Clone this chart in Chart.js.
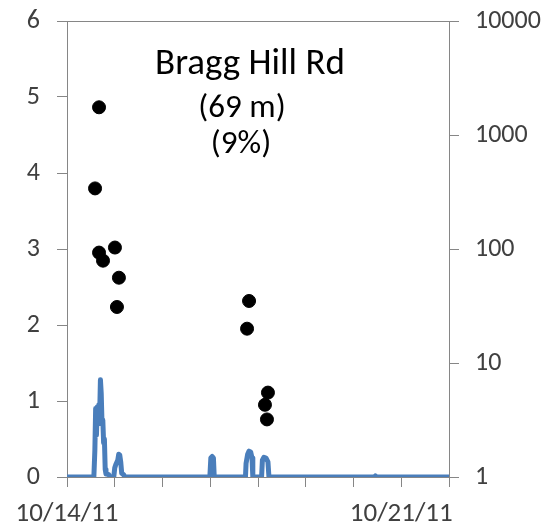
<!DOCTYPE html>
<html>
<head>
<meta charset="utf-8">
<script src="https://cdn.jsdelivr.net/npm/chart.js@4/dist/chart.umd.min.js"></script>
<style>
  html, body { margin: 0; padding: 0; background: #fff; }
  #wrap { width: 545px; height: 525px; }
</style>
</head>
<body>
<div id="wrap"><canvas id="flowChart" width="545" height="525"></canvas></div>
<script>
// hours since 10/14/11 00:00
const flowHours = [0, 13.5, 14, 14.4, 14.8, 15.2, 15.6, 16, 16.4, 16.8, 17.2, 17.6, 18, 18.4, 18.8, 19.2, 19.6, 21, 21.5,
  23.5, 24, 24.5, 25.5, 26, 26.5, 27, 27.5, 28.5, 29,
  71.8, 72.3, 73, 73.6, 74,
  89.7, 90, 90.8, 91.5, 92.3, 93, 93.4,
  97.8, 98.2, 99, 100, 101, 101.5,
  154.5, 155, 155.5, 192];
const flowValues = [0, 0, 0.35, 0.9, 0.55, 0.92, 0.7, 0.95, 0.8, 1.28, 1.1, 0.7, 0.75, 0.45, 0.5, 0.1, 0.04, 0.03, 0,
  0, 0.12, 0.16, 0.22, 0.30, 0.29, 0.2, 0.05, 0.03, 0,
  0, 0.25, 0.27, 0.25, 0,
  0, 0.18, 0.3, 0.34, 0.33, 0.25, 0,
  0, 0.22, 0.26, 0.25, 0.2, 0,
  0, 0.015, 0, 0];

const sampleHours = [16.1, 14.1, 16.1, 24.1, 18.1, 26.1, 25.1, 91.5, 90.5, 101, 99.5, 100.5];
const sampleValues = [1750, 340, 93, 103, 79, 56, 31, 35, 20, 5.5, 4.3, 3.2];

const dayLabels = ['10/14/11', '', '', '', '', '', '', '10/21/11', ''];
const leftTicks = [0, 1, 2, 3, 4, 5, 6];
const rightTicks = [1, 10, 100, 1000, 10000];
const titleLines = ['Bragg Hill Rd', '(69 m)', '(9%)'];

const FONT = "Carlito, 'Open Sans', sans-serif";
const AXIS = '#868686';
const TEXT = '#404040';

const flowPoints = flowHours.map((h, i) => ({ x: h, y: flowValues[i] }));
const samplePoints = sampleHours.map((h, i) => ({ x: h, y: sampleValues[i] }));

// box line along the top of the plot area + the site labels
const plotDecor = {
  id: 'plotDecor',
  beforeDatasetsDraw(chart) {
    const { ctx, chartArea: a } = chart;
    ctx.save();
    ctx.strokeStyle = AXIS;
    ctx.lineWidth = 1;
    ctx.beginPath();
    ctx.moveTo(a.left, a.top + 0.5);
    ctx.lineTo(a.right, a.top + 0.5);
    ctx.stroke();
    ctx.restore();
  },
  afterDraw(chart) {
    const { ctx } = chart;
    ctx.save();
    ctx.fillStyle = '#000';
    ctx.textAlign = 'center';
    ctx.textBaseline = 'alphabetic';
    ctx.font = '37px ' + FONT;
    ctx.fillText(titleLines[0], 250, 74);
    ctx.font = '33px ' + FONT;
    ctx.fillText(titleLines[1], 242, 117);
    ctx.fillText(titleLines[2], 241, 153);
    ctx.restore();
  }
};

function fixWidth(w) {
  return function(scale) {
    scale.width = w;
    scale.paddingTop = 0;
    scale.paddingBottom = 0;
  };
}

new Chart(document.getElementById('flowChart'), {
  data: {
    datasets: [
      {
        type: 'scatter',
        data: samplePoints,
        yAxisID: 'y1',
        backgroundColor: '#000',
        borderColor: '#000',
        pointRadius: 6.5,
        pointHoverRadius: 6.5
      },
      {
        type: 'line',
        data: flowPoints,
        yAxisID: 'y',
        borderColor: '#4A7EBB',
        borderWidth: 5,
        borderJoinStyle: 'round',
        borderCapStyle: 'round',
        pointRadius: 0,
        tension: 0
      }
    ]
  },
  options: {
    responsive: false,
    animation: false,
    layout: { padding: { top: 21, left: 0, right: 0, bottom: 0 } },
    plugins: { legend: { display: false }, tooltip: { enabled: false } },
    scales: {
      x: {
        type: 'linear',
        min: 0,
        max: 192,
        afterBuildTicks: s => { s.ticks = dayLabels.map((_, i) => ({ value: i * 24 })); },
        afterFit: s => { s.height = 48; s.paddingLeft = 0; s.paddingRight = 0; },
        ticks: {
          autoSkip: false,
          maxRotation: 0,
          padding: 11,
          color: TEXT,
          font: { family: FONT, size: 27 },
          callback: (v, i) => dayLabels[i]
        },
        grid: { drawOnChartArea: false, tickLength: 10, color: AXIS },
        border: { color: AXIS }
      },
      y: {
        position: 'left',
        min: 0,
        max: 6,
        afterBuildTicks: s => { s.ticks = leftTicks.map(v => ({ value: v })); },
        afterFit: fixWidth(67),
        ticks: {
          padding: 17,
          color: TEXT,
          font: { family: FONT, size: 26 }
        },
        grid: { drawOnChartArea: false, tickLength: 10, color: AXIS },
        border: { color: AXIS }
      },
      y1: {
        type: 'logarithmic',
        position: 'right',
        min: 1,
        max: 10000,
        afterBuildTicks: s => { s.ticks = rightTicks.map(v => ({ value: v })); },
        afterFit: fixWidth(96),
        ticks: {
          padding: 16,
          color: TEXT,
          font: { family: FONT, size: 26 },
          callback: v => String(v)
        },
        grid: { drawOnChartArea: false, tickLength: 10, color: AXIS },
        border: { color: AXIS }
      }
    }
  },
  plugins: [plotDecor]
});
</script>
</body>
</html>
